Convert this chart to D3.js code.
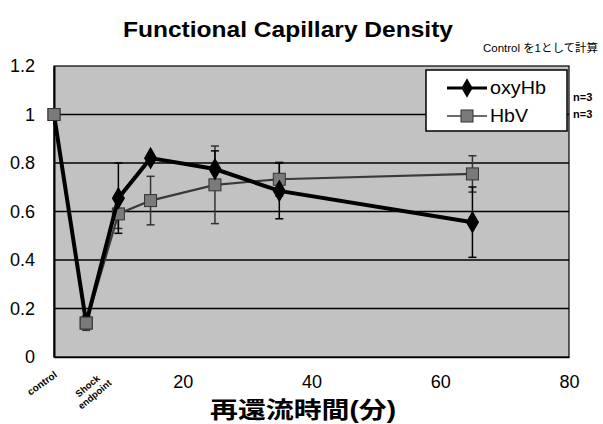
<!DOCTYPE html>
<html>
<head>
<meta charset="utf-8">
<script src="https://cdn.jsdelivr.net/npm/d3@7"></script>
<style>
  body { margin: 0; background: #fff; }
  text { font-family: "Liberation Sans", Arial, "Noto Sans CJK JP", sans-serif; }
</style>
</head>
<body>
<svg id="chart" width="603" height="424"></svg>
<script>
// reperfusion time (min), 0 = control, 5 = shock endpoint
var times = [0, 5, 10, 15, 25, 35, 65];
var oxyHb = [1.0, 0.14, 0.655, 0.82, 0.775, 0.685, 0.556];
var oxyHbErr = [0, 0, 0.145, 0, 0.075, 0.115, 0.145];
var hbv = [1.0, 0.14, 0.59, 0.645, 0.71, 0.733, 0.755];
var hbvErr = [0, 0.03, 0.06, 0.1, 0.16, 0.07, 0.075];
var yTicks = [0, 0.2, 0.4, 0.6, 0.8, 1, 1.2];
var xTicks = [20, 40, 60, 80];

var svg = d3.select("#chart");
var plotL = 54, plotR = 569, plotT = 66, plotB = 357;
var numFont = "'Liberation Sans', Arial, sans-serif";

var x = d3.scaleLinear().domain([0, 80]).range([plotL, plotR]);
var y = d3.scaleLinear().domain([0, 1.2]).range([plotB, plotT]);

// title
svg.append("text")
    .attr("x", 288).attr("y", 37)
    .attr("text-anchor", "middle")
    .attr("textLength", 330).attr("lengthAdjust", "spacingAndGlyphs")
    .style("font-size", "22px").style("font-weight", "bold")
    .text("Functional Capillary Density");
svg.append("text")
    .attr("x", 483).attr("y", 52)
    .attr("textLength", 115).attr("lengthAdjust", "spacingAndGlyphs")
    .style("font-size", "11px")
    .text("Control を1として計算");

// plot background
svg.append("rect")
    .attr("x", plotL).attr("y", plotT)
    .attr("width", plotR - plotL).attr("height", plotB - plotT)
    .style("fill", "#c2c2c2").style("stroke", "#000").style("stroke-width", 1.2);

// grid lines
svg.append("g").selectAll("line")
    .data(yTicks.filter(function (d) { return d > 0 && d < 1.2; }))
    .enter().append("line")
    .attr("x1", plotL).attr("x2", plotR)
    .attr("y1", function (d) { return y(d); })
    .attr("y2", function (d) { return y(d); })
    .style("stroke", "#000").style("stroke-width", 1.5);

// y axis
var yAxis = svg.append("g")
    .attr("transform", "translate(" + plotL + ",0)")
    .call(d3.axisLeft(y).tickValues(yTicks).tickSize(0).tickPadding(19)
        .tickFormat(function (d) { return d; }));
yAxis.select(".domain").style("stroke", "#000").style("stroke-width", 2);
yAxis.selectAll("text").style("font-size", "18px").style("font-family", numFont);

// x axis
var xAxis = svg.append("g")
    .attr("transform", "translate(0," + plotB + ")")
    .call(d3.axisBottom(x).tickValues(xTicks).tickSize(0).tickPadding(18));
xAxis.select(".domain").style("stroke", "#000").style("stroke-width", 1.5);
xAxis.selectAll("text").style("font-size", "18px").style("font-family", numFont);

// category labels
svg.append("text")
    .attr("transform", "translate(44,386) rotate(-35)")
    .attr("text-anchor", "middle")
    .style("font-size", "10px").style("font-weight", "bold")
    .text("control");
var shock = svg.append("text")
    .attr("transform", "translate(91,390) rotate(-40)")
    .attr("text-anchor", "middle")
    .style("font-size", "9.5px").style("font-weight", "bold");
shock.append("tspan").attr("x", 0).attr("dy", -2).text("Shock");
shock.append("tspan").attr("x", 0).attr("dy", 11).text("endpoint");

svg.append("text")
    .attr("x", 303).attr("y", 418)
    .attr("text-anchor", "middle")
    .attr("textLength", 186).attr("lengthAdjust", "spacingAndGlyphs")
    .style("font-size", "23px").style("font-weight", "bold")
    .text("再還流時間(分)");

// error bars
function errorBars(vals, errs, color) {
    var g = svg.append("g").style("stroke", color).style("stroke-width", 1.5);
    times.forEach(function (t, i) {
        if (!errs[i]) return;
        var cx = x(t);
        g.append("line").attr("x1", cx).attr("x2", cx)
            .attr("y1", y(vals[i] - errs[i])).attr("y2", y(vals[i] + errs[i]));
        [vals[i] - errs[i], vals[i] + errs[i]].forEach(function (v) {
            g.append("line").attr("x1", cx - 4).attr("x2", cx + 4)
                .attr("y1", y(v)).attr("y2", y(v));
        });
    });
}
errorBars(hbv, hbvErr, "#333");
errorBars(oxyHb, oxyHbErr, "#000");

var line = d3.line()
    .x(function (d, i) { return x(times[i]); })
    .y(function (d) { return y(d); });

// HbV
svg.append("path").datum(hbv)
    .attr("d", line)
    .style("fill", "none").style("stroke", "#3a3a3a").style("stroke-width", 2.2);
svg.append("g").selectAll("rect")
    .data(hbv).enter().append("rect")
    .attr("x", function (d, i) { return x(times[i]) - 6; })
    .attr("y", function (d) { return y(d) - 6; })
    .attr("width", 12).attr("height", 12)
    .style("fill", "#7a7a7a").style("stroke", "#333").style("stroke-width", 1);

// oxyHb
svg.append("path").datum(oxyHb)
    .attr("d", line)
    .style("fill", "none").style("stroke", "#000").style("stroke-width", 4);
svg.append("g").selectAll("path.dia")
    .data(oxyHb.slice(2)).enter().append("path")
    .attr("class", "dia")
    .attr("d", d3.symbol().type(d3.symbolDiamond).size(150))
    .attr("transform", function (d, i) { return "translate(" + x(times[i + 2]) + "," + y(d) + ")"; })
    .style("fill", "#000");
// control and shock markers of HbV sit on top
svg.append("g").selectAll("rect")
    .data(hbv.slice(0, 2)).enter().append("rect")
    .attr("x", function (d, i) { return x(times[i]) - 6; })
    .attr("y", function (d) { return y(d) - 6; })
    .attr("width", 12).attr("height", 12)
    .style("fill", "#7a7a7a").style("stroke", "#333").style("stroke-width", 1);

// legend
var lg = svg.append("g");
lg.append("rect")
    .attr("x", 426).attr("y", 70).attr("width", 141).attr("height", 61)
    .style("fill", "#fff").style("stroke", "#000").style("stroke-width", 1.5);
lg.append("line").attr("x1", 447).attr("x2", 487).attr("y1", 88).attr("y2", 88)
    .style("stroke", "#000").style("stroke-width", 3);
lg.append("path").attr("d", d3.symbol().type(d3.symbolDiamond).size(110))
    .attr("transform", "translate(467,88)").style("fill", "#000");
lg.append("text").attr("x", 490).attr("y", 94)
    .attr("textLength", 56).attr("lengthAdjust", "spacingAndGlyphs")
    .style("font-size", "18px").text("oxyHb");
lg.append("line").attr("x1", 447).attr("x2", 487).attr("y1", 116).attr("y2", 116)
    .style("stroke", "#3a3a3a").style("stroke-width", 1.5);
lg.append("rect").attr("x", 461).attr("y", 110).attr("width", 12).attr("height", 12)
    .style("fill", "#7a7a7a").style("stroke", "#333");
lg.append("text").attr("x", 490).attr("y", 122)
    .attr("textLength", 38).attr("lengthAdjust", "spacingAndGlyphs")
    .style("font-size", "18px").text("HbV");

svg.append("text").attr("x", 573).attr("y", 101)
    .style("font-size", "11px").style("font-weight", "bold").text("n=3");
svg.append("text").attr("x", 573).attr("y", 118)
    .style("font-size", "11px").style("font-weight", "bold").text("n=3");
</script>
</body>
</html>
